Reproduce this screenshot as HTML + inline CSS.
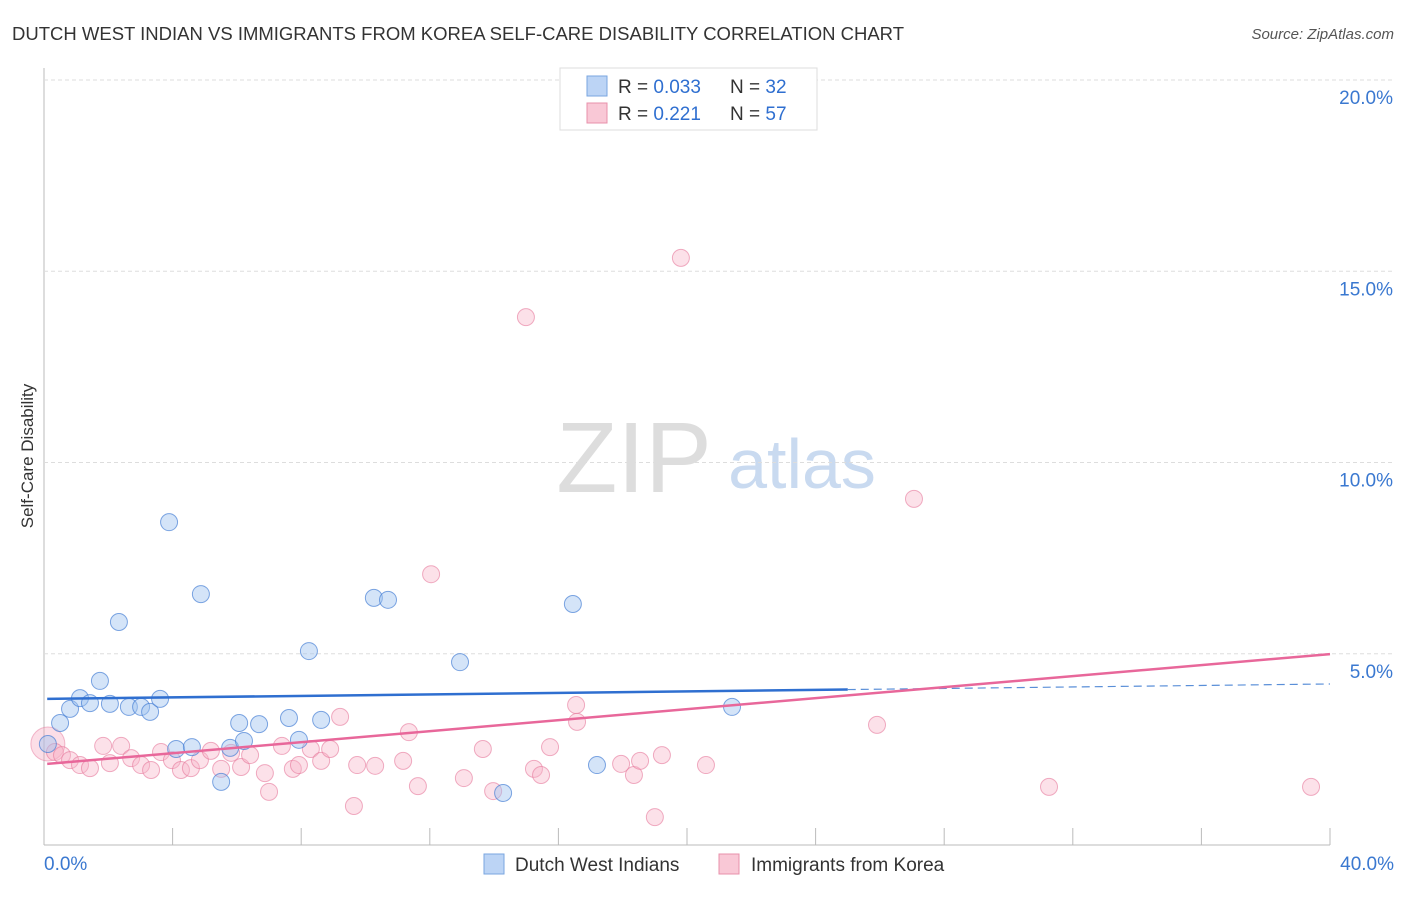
<!DOCTYPE html>
<html><head><meta charset="utf-8"><style>
body{margin:0;background:#fff;font-family:"Liberation Sans",sans-serif}
svg text{font-family:"Liberation Sans",sans-serif}
</style></head><body>
<svg id="c" width="1406" height="892">
<text x="12" y="40" font-size="18" fill="#333" textLength="892" lengthAdjust="spacingAndGlyphs">DUTCH WEST INDIAN VS IMMIGRANTS FROM KOREA SELF-CARE DISABILITY CORRELATION CHART</text>
<text x="1394" y="39" font-size="15" fill="#555" text-anchor="end" font-style="italic">Source: ZipAtlas.com</text>
<text x="33" y="456" font-size="17" fill="#333" text-anchor="middle" transform="rotate(-90 33 456)">Self-Care Disability</text>
<g><text x="634" y="492" font-size="100" font-family="Liberation Serif" fill="#ddd" text-anchor="middle">ZIP</text><text x="802" y="488" font-size="70" fill="#c9daf0" text-anchor="middle">atlas</text></g>
<g id="grid"></g><g id="pts"></g><g id="lines"></g>
<g>
<rect x="560" y="68" width="257" height="62" fill="#fff" stroke="#ddd"/>
<rect x="587" y="76" width="20" height="20" fill="#bcd4f5" stroke="#7aa6e0"/>
<text x="618" y="93" font-size="19" fill="#333">R = <tspan fill="#2f6fd0">0.033</tspan></text>
<text x="730" y="93" font-size="19" fill="#333">N = <tspan fill="#2f6fd0">32</tspan></text>
<rect x="587" y="103" width="20" height="20" fill="#f9c8d6" stroke="#e890ab"/>
<text x="618" y="120" font-size="19" fill="#333">R = <tspan fill="#2f6fd0"> 0.221</tspan></text>
<text x="730" y="120" font-size="19" fill="#333">N = <tspan fill="#2f6fd0">57</tspan></text>
</g>
<g>
<rect x="484" y="854" width="20" height="20" fill="#bcd4f5" stroke="#7aa6e0"/>
<text x="515" y="871" font-size="19" fill="#333">Dutch West Indians</text>
<rect x="719" y="854" width="20" height="20" fill="#f9c8d6" stroke="#e890ab"/>
<text x="751" y="871" font-size="19" fill="#333">Immigrants from Korea</text>
</g>
</svg>
<script>
const yTicks=[5,10,15,20];
const yTickLabels=["5.0%","10.0%","15.0%","20.0%"];
const xTicks=[4,8,12,16,20,24,28,32,36,40];
const blueX=[0.12,0.5,0.81,1.12,1.43,1.74,2.05,2.33,2.64,3.02,3.3,3.61,3.89,4.11,4.6,4.88,5.51,5.79,6.07,6.22,6.69,7.62,7.93,8.24,8.62,10.26,10.7,12.94,16.45,17.2,14.28,21.4];
const blueY=[2.64,3.19,3.56,3.84,3.71,4.29,3.69,5.83,3.61,3.61,3.48,3.82,8.44,2.51,2.56,6.56,1.65,2.54,3.19,2.72,3.16,3.32,2.75,5.07,3.27,6.46,6.41,4.78,6.3,2.09,1.36,3.61];
const pinkX=[0.34,0.56,0.81,1.12,1.43,1.84,2.05,2.4,2.71,3.02,3.33,3.64,3.98,4.26,4.57,4.85,5.19,5.51,5.82,6.13,6.41,6.87,7.0,7.4,7.74,7.93,8.3,8.62,8.9,9.21,9.64,9.74,10.3,11.17,11.35,11.63,12.04,13.06,13.65,13.97,14.99,15.24,15.46,15.74,16.55,16.58,17.95,18.35,18.54,19.0,19.22,19.81,20.59,25.91,27.06,31.26,39.41];
const pinkY=[2.43,2.35,2.22,2.09,2.01,2.59,2.14,2.59,2.27,2.09,1.96,2.43,2.22,1.96,2.01,2.22,2.46,1.99,2.41,2.04,2.35,1.88,1.39,2.59,1.99,2.09,2.51,2.2,2.51,3.35,1.02,2.09,2.07,2.2,2.95,1.54,7.08,1.75,2.51,1.41,13.8,1.99,1.83,2.56,3.66,3.22,2.12,1.83,2.2,0.73,2.35,15.35,2.09,3.14,9.05,1.52,1.52];
const blueTrend=[3.82,4.21];
const pinkTrend=[2.12,4.99];
const blueSolidEnd=25;
const X=v=>44+v*32.15, Y=v=>845-v*38.25;
const NS="http://www.w3.org/2000/svg";
function mk(tag,attrs,parent){const e=document.createElementNS(NS,tag);for(const k in attrs)e.setAttribute(k,attrs[k]);document.getElementById(parent).appendChild(e);return e;}
let e=mk('line',{x1:44,y1:68,x2:44,y2:845,stroke:'#bbb'},'grid');


e=mk('line',{x1:44,y1:845,x2:1330,y2:845,stroke:'#bbb'},'grid');


yTicks.forEach((t,i)=>{
 let g=mk('line',{x1:44,x2:1394,y1:Y(t),y2:Y(t),stroke:'#ddd','stroke-dasharray':'4 3'},'grid');
 
 
 let l=mk('text',{x:1393,y:Y(t)+24,'font-size':19,fill:'#3a78d0','text-anchor':'end'},'grid');
 l.textContent=yTickLabels[i];
 
 
});
xTicks.forEach(t=>{
 let g=mk('line',{x1:X(t),x2:X(t),y1:828,y2:845,stroke:'#bbb'},'grid');
 
 
});
let xl=mk('text',{x:44,y:870,'font-size':19,fill:'#3a78d0'},'grid');xl.textContent='0.0%';


xl=mk('text',{x:1394,y:870,'font-size':19,fill:'#3a78d0','text-anchor':'end'},'grid');xl.textContent='40.0%';


let big=mk('circle',{cx:X(0.12),cy:Y(2.64),r:17,fill:'rgba(245,160,185,0.35)',stroke:'rgba(230,120,155,0.5)'},'pts');


pinkX.forEach((x,i)=>{
 let c=mk('circle',{cx:X(x),cy:Y(pinkY[i]),r:8.5,fill:'rgba(248,180,200,0.4)',stroke:'rgba(230,120,155,0.6)'},'pts');
 
 
});
blueX.forEach((x,i)=>{
 let c=mk('circle',{cx:X(x),cy:Y(blueY[i]),r:8.5,fill:'rgba(160,195,240,0.45)',stroke:'rgba(60,120,210,0.65)'},'pts');
 
 
});
const bAt=v=>blueTrend[0]+(blueTrend[1]-blueTrend[0])*v/40;
let t1=mk('line',{x1:X(0.1),y1:Y(bAt(0.1)),x2:X(blueSolidEnd),y2:Y(bAt(blueSolidEnd)),stroke:'#2f6fd0','stroke-width':2.5},'lines');


let t2=mk('line',{x1:X(blueSolidEnd),y1:Y(bAt(blueSolidEnd)),x2:X(40),y2:Y(bAt(40)),stroke:'#5a8fd8','stroke-width':1.2,'stroke-dasharray':'8 5'},'lines');


let t3=mk('line',{x1:X(0.1),y1:Y(pinkTrend[0]),x2:X(40),y2:Y(pinkTrend[1]),stroke:'#e8679a','stroke-width':2.5},'lines');


</script>
</body></html>
